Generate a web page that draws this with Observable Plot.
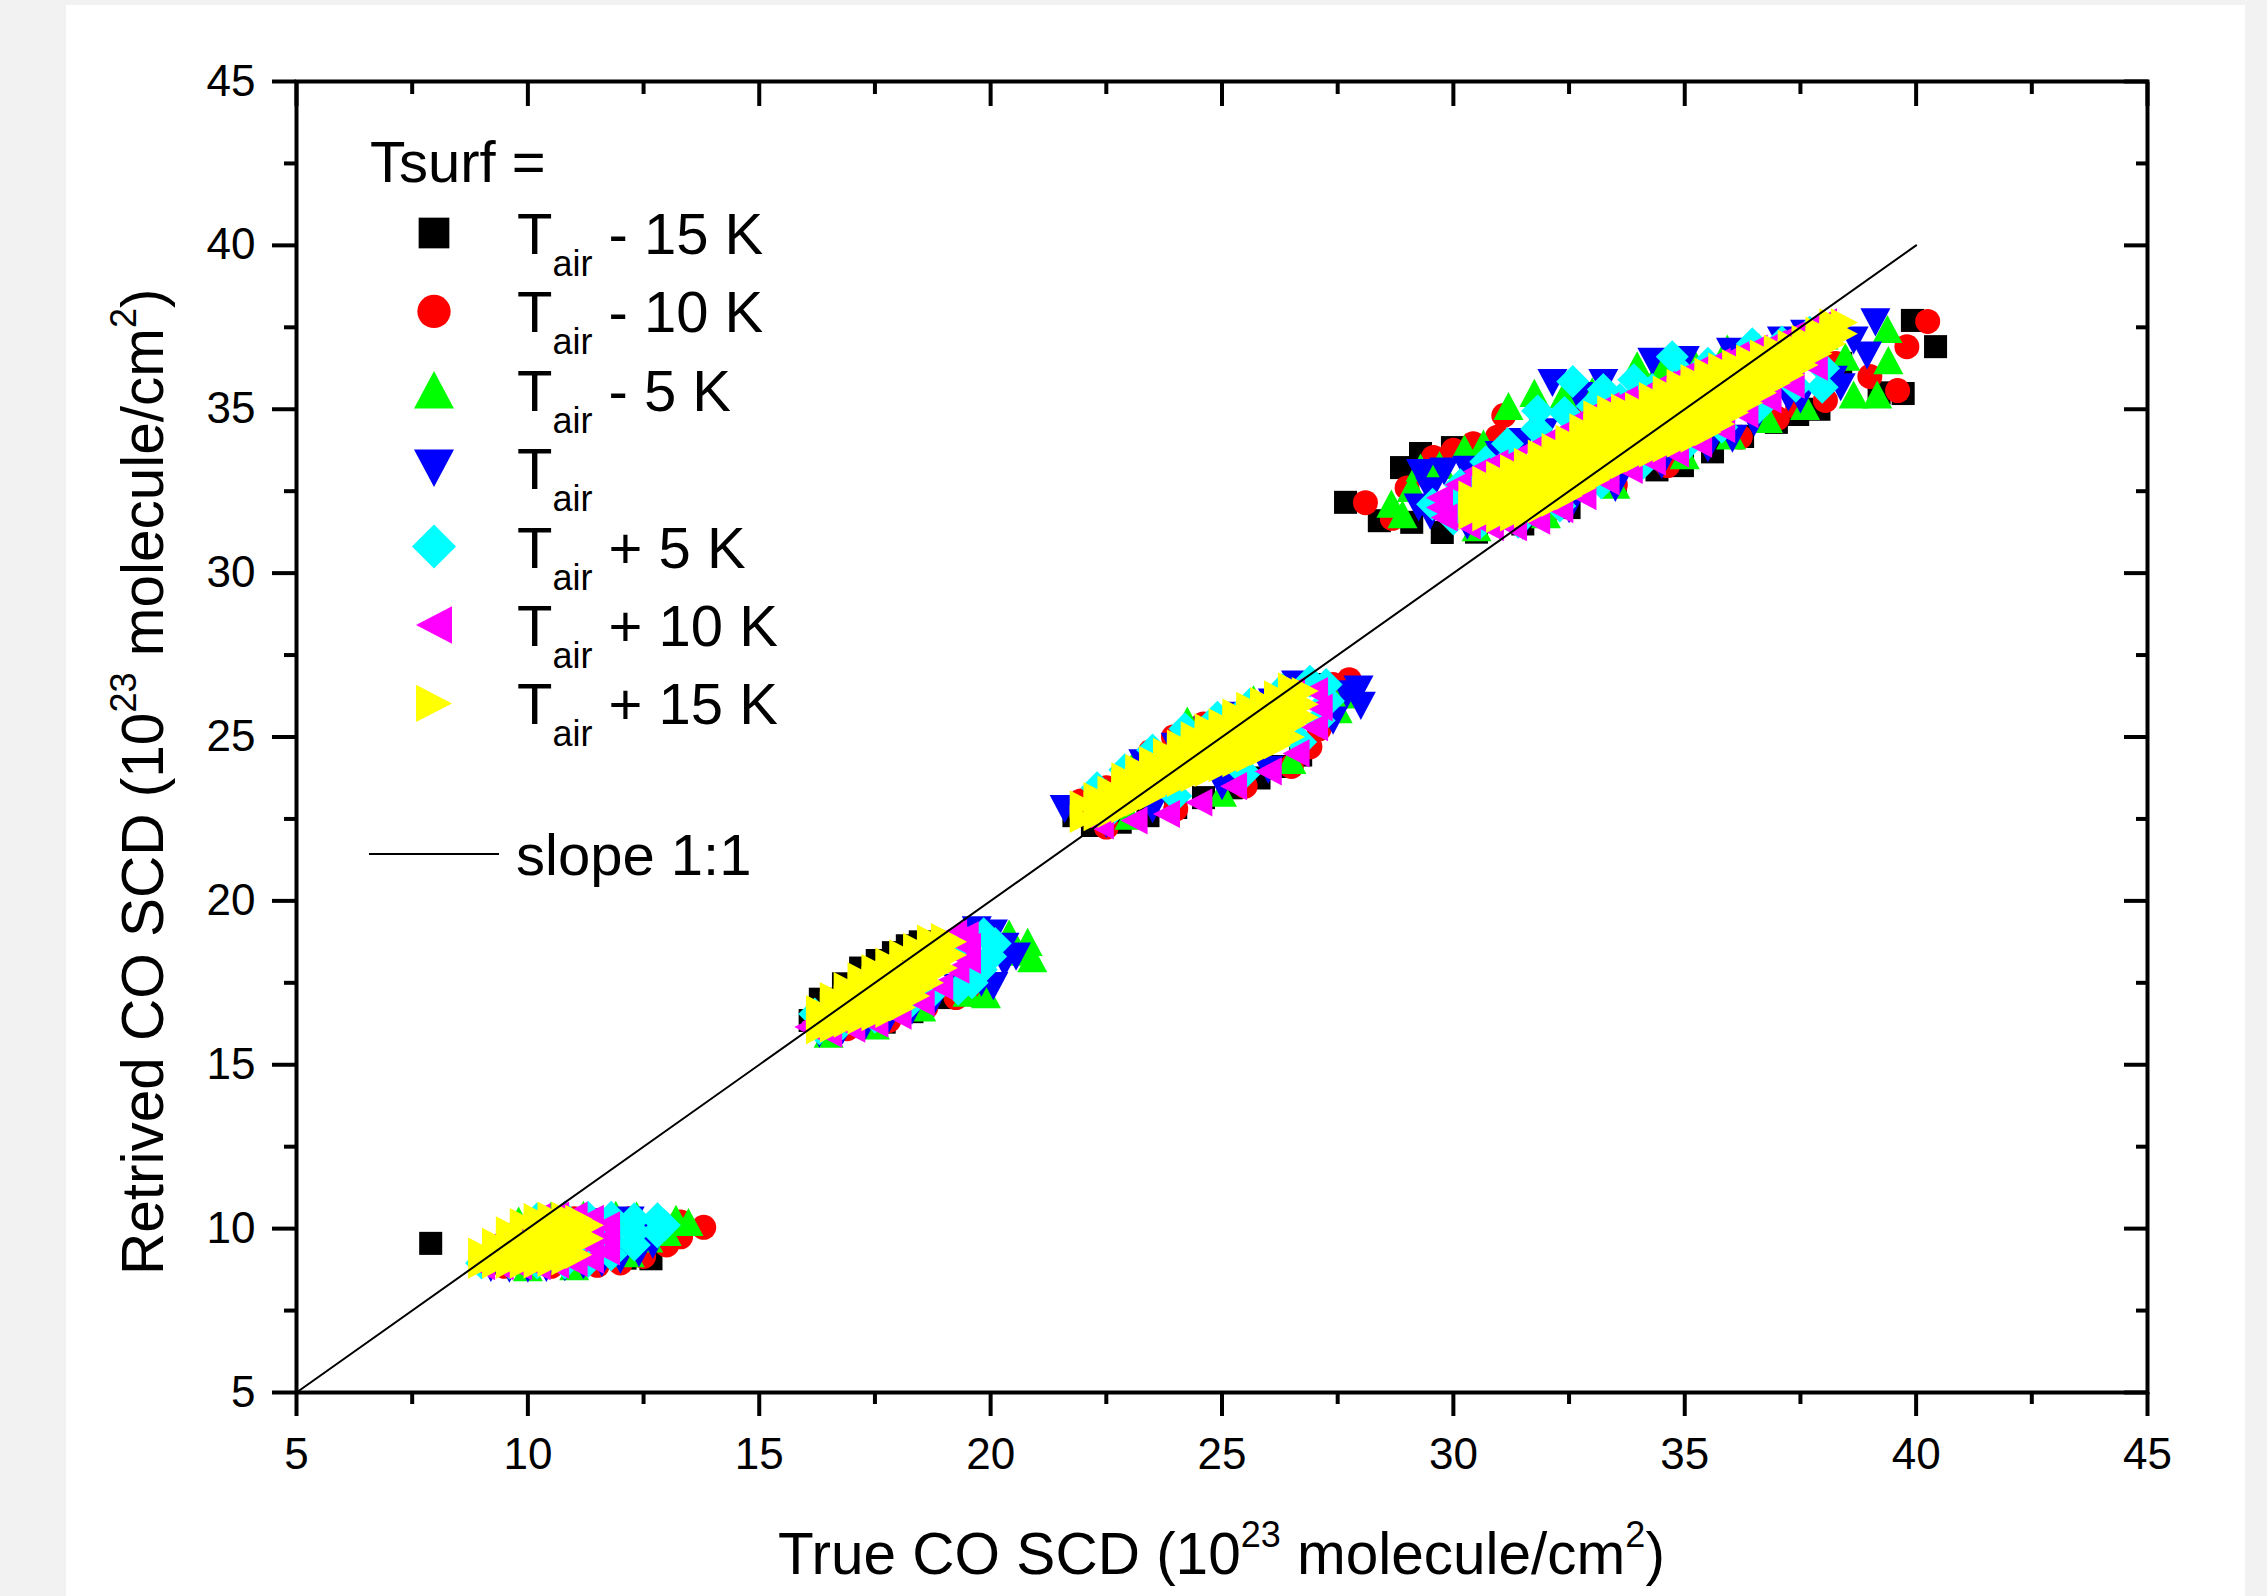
<!DOCTYPE html>
<html><head><meta charset="utf-8">
<script src="https://cdn.jsdelivr.net/npm/d3@7"></script>
<script src="https://cdn.jsdelivr.net/npm/@observablehq/plot@0.6"></script>
<style>
html,body{margin:0;padding:0;background:#f2f2f2;width:2267px;height:1596px;overflow:hidden;}
#panel{position:absolute;left:66px;top:5px;width:2179px;height:1591px;background:#fff;}
#chart{position:absolute;left:0;top:0;}
#overlay{position:absolute;left:0;top:0;pointer-events:none;}
</style></head><body>
<div id="panel"></div><div id="chart"></div>
<script>
// ---------- data ----------
const xMajorTicks = [5,10,15,20,25,30,35,40,45];
const xMinorTicks = [7.5,12.5,17.5,22.5,27.5,32.5,37.5,42.5];
const yMajorTicks = [5,10,15,20,25,30,35,40,45];
const yMinorTicks = [7.5,12.5,17.5,22.5,27.5,32.5,37.5,42.5];
const seriesLabels = ["Tair - 15 K","Tair - 10 K","Tair - 5 K","Tair","Tair + 5 K","Tair + 10 K","Tair + 15 K"];
const legendSuffix = [" - 15 K"," - 10 K"," - 5 K",""," + 5 K"," + 10 K"," + 15 K"];
const seriesColors = ["#000000","#ff0000","#00ff00","#0000ff","#00ffff","#ff00ff","#ffff00"];
const slopeLine = [[5,5],[40,40]];

const tairMinus15 = [
[7.9,9.55],[12.66,9.08],[9.6,8.95],[10.4,9.0],[11.3,9.05],[12.1,9.1],[10.5,10.2],[11.6,10.2],[12.5,9.8],
[16.32,17.0],[16.82,17.47],[17.19,17.95],[17.55,18.18],[17.9,18.42],[18.2,18.63],[18.48,18.75],[16.1,16.35],
[17.7,16.3],[18.3,16.62],[18.9,17.05],[19.3,17.4],[17.0,16.6],[18.0,17.4],[18.8,18.2],
[21.8,22.6],[22.2,22.3],[22.8,22.4],[23.4,22.6],[24.0,22.85],[24.6,23.15],[25.2,23.45],[25.8,23.75],[26.3,24.1],[26.7,24.45],
[26.8,26.62],[27.0,26.6],[23.0,23.5],[24.5,24.3],[26.0,25.3],
[27.67,32.16],[28.4,31.6],[29.1,31.55],[29.76,31.24],[28.88,33.22],[29.29,33.65],[29.98,33.83],[30.5,31.25],
[31.5,31.5],[32.5,32.0],[33.5,32.7],[34.4,33.15],[34.95,33.28],[35.6,33.7],[36.25,34.17],[36.98,34.6],[37.44,34.84],
[37.9,35.0],[38.37,36.4],[39.92,37.71],[40.42,36.91],[39.72,35.48],[39.2,35.5],[31.0,33.0],[33.0,34.0],[35.0,35.0],[37.0,36.0]
];
const tairMinus10 = [
[13.8,10.04],[13.3,9.75],[13.0,9.5],[12.5,9.15],[12.0,8.95],[11.5,8.88],[10.5,8.85],[9.5,8.85],[11.0,10.3],[12.2,10.3],[13.3,10.2],
[19.6,17.15],[19.25,17.05],[18.6,16.75],[17.8,16.35],[16.9,16.1],[16.4,16.4],[16.8,17.0],[17.5,17.7],[18.3,18.3],[19.0,18.7],
[21.95,23.05],[22.5,23.45],[23.45,24.55],[23.95,25.0],[24.6,25.4],[25.5,25.8],[27.75,26.75],[27.4,26.6],[27.1,25.25],
[22.5,22.25],[24.0,22.8],[25.5,23.5],[26.5,24.1],[26.9,24.7],
[28.1,32.15],[28.68,31.67],[29.0,32.6],[29.57,33.53],[30.0,33.75],[30.43,33.95],[30.95,34.15],[31.09,34.81],[30.78,33.35],
[32.8,34.9],[34.0,35.4],[35.2,35.9],[36.5,36.4],[30.5,31.4],[32.0,31.8],[33.5,32.7],[34.63,33.28],[36.2,34.15],
[37.0,34.72],[37.44,35.05],[38.04,35.27],[38.26,36.4],[39.6,35.57],[39.8,36.91],[40.25,37.68],[39.0,36.0]
];
const tairMinus5 = [
[9.8,10.25],[10.5,10.4],[11.2,10.42],[11.9,10.42],[12.35,10.4],[12.8,10.38],[13.2,10.3],[13.47,10.2],[12.6,9.7],[13.0,9.9],[12.2,9.25],[11.0,8.85],[10.0,8.82],
[20.8,18.75],[20.9,18.25],[20.6,18.45],[20.4,19.0],[19.9,17.15],[19.5,17.2],[18.5,16.75],[17.5,16.2],[16.5,15.95],[19.8,18.0],
[23.1,24.2],[24.25,25.5],[25.68,26.15],[27.5,25.85],[27.6,26.3],[22.5,23.3],[26.2,26.35],[23.0,22.6],[25.0,23.3],[26.5,24.3],
[28.66,32.12],[29.1,32.6],[29.29,33.22],[29.7,33.3],[30.24,33.8],[30.65,33.95],[31.19,35.1],[31.75,35.5],[32.4,35.45],[33.0,35.55],
[33.97,36.34],[34.5,36.35],[35.2,36.45],[35.92,36.85],[36.6,36.9],[37.3,37.05],[38.0,37.25],[39.38,37.45],[39.4,36.5],[38.47,36.6],
[38.65,35.45],[39.16,35.45],[37.6,35.1],[36.8,34.7],[30.5,31.4],[32.0,31.8],[33.5,32.7],[35.0,33.6],[36.0,34.2],[28.9,31.8]
];
const tair = [
[9.2,8.8],[9.6,8.78],[10.0,8.78],[10.4,8.8],[10.8,8.82],[11.2,8.88],[11.6,8.95],[12.0,9.05],[12.4,9.25],[12.7,9.5],[10.5,10.2],[11.5,10.2],[12.2,10.25],[12.6,9.9],
[16.3,15.95],[16.8,16.05],[17.3,16.2],[17.8,16.4],[18.3,16.65],[18.8,17.0],[19.3,17.35],[19.8,17.5],[20.06,17.4],
[20.3,18.1],[20.55,18.3],[20.3,18.6],[20.05,19.0],[19.7,19.1],[17.5,17.3],[18.5,18.0],
[21.6,22.8],[27.95,26.45],[28.0,25.95],[27.7,26.3],[27.4,25.5],[23.3,24.2],[24.0,24.7],[24.7,25.2],[25.4,25.65],[26.1,26.05],[26.6,26.6],
[22.5,22.35],[23.5,22.8],[25.0,23.5],[26.0,24.0],
[29.25,32.0],[29.5,32.5],[29.5,31.75],[29.3,33.05],[29.8,33.1],[30.3,33.15],[31.0,33.6],[31.5,34.0],[31.95,34.3],[32.14,35.8],[33.24,35.8],[32.7,35.4],
[34.3,36.45],[35.0,36.5],[36.0,36.75],[37.1,37.1],[37.6,37.3],[39.12,37.65],[38.65,37.1],[38.94,36.64],[38.37,35.67],[37.24,35.36],[36.03,34.1],
[30.3,31.45],[31.5,31.45],[32.5,31.95],[33.5,32.6],[34.5,33.3],[35.5,33.8],[36.5,34.6],[37.5,35.3],[38.2,35.9]
];
const tairPlus5 = [
[9.0,8.95],[9.6,8.95],[10.2,8.95],[10.8,8.95],[10.2,10.3],[10.8,10.35],[11.3,9.0],[11.3,9.5],[11.3,10.0],[11.3,10.35],[11.8,9.2],[11.8,9.6],[11.8,10.0],[11.8,10.35],
[12.3,9.5],[12.3,9.9],[12.3,10.3],[12.8,9.9],[12.8,10.3],[12.95,10.1],
[20.1,18.7],[20.0,18.3],[19.85,19.0],[19.8,17.9],[19.6,17.5],[19.3,17.3],[18.2,16.8],[18.7,17.15],[17.5,16.45],[16.8,16.25],[16.3,16.1],[16.2,16.55],[19.4,18.5],
[22.3,23.45],[22.9,24.0],[23.5,24.6],[24.2,25.25],[24.9,25.6],[25.6,26.0],[26.3,26.45],[26.9,26.7],[27.25,26.6],[27.3,26.1],[27.1,25.5],[26.7,24.85],
[22.5,22.6],[24.0,23.2],[25.5,23.9],
[29.55,32.1],[30.15,32.7],[30.7,33.4],[31.17,33.95],[31.82,34.95],[32.58,35.85],[33.24,35.6],[33.9,35.9],[34.73,36.6],[35.5,36.4],[36.46,37.0],[37.1,37.05],[37.7,37.35],
[30.0,32.3],[30.6,32.9],[31.2,33.45],[31.8,34.4],[32.4,34.9],[33.0,35.1],[33.6,35.3],[34.3,35.6],[35.0,36.0],[35.7,36.2],[36.4,36.55],[37.0,36.8],[37.5,37.1],
[30.0,31.65],[30.6,31.55],[31.4,31.55],[32.3,32.05],[33.2,32.75],[34.1,33.35],[35.0,33.85],[35.8,34.45],[36.6,35.05],[37.4,35.7],[38.0,36.25],[37.97,35.67]
];
const tairPlus10 = [
[9.0,8.85],[9.0,9.25],[9.4,8.85],[9.4,9.3],[9.4,9.7],[9.8,8.85],[9.8,9.7],[9.8,10.1],[10.2,8.85],[10.2,10.35],[10.6,8.9],[10.6,10.4],[11.0,8.95],[11.0,10.4],
[11.35,9.05],[11.35,9.5],[11.35,9.9],[11.35,10.3],[11.7,9.3],[11.7,9.7],[11.7,10.1],
[16.5,15.95],[17.0,16.1],[17.5,16.25],[18.0,16.5],[18.5,16.9],[18.9,17.4],[19.25,17.9],[19.5,18.2],[19.5,18.6],[19.45,18.95],[19.2,19.0],[17.5,17.0],[18.5,18.0],[16.2,16.3],[16.05,16.15],
[22.37,22.3],[23.1,22.45],[23.8,22.65],[24.5,23.0],[25.25,23.5],[26.0,23.95],[26.6,24.5],[27.0,25.3],[27.1,25.9],[27.0,26.4],[22.6,23.4],[24.0,24.7],[25.5,25.75],[26.5,26.4],
[29.7,32.3],[30.1,32.7],[30.5,33.1],[30.9,33.35],[31.3,33.5],[31.7,33.8],[32.1,34.1],[32.5,34.4],[32.9,34.8],[33.3,35.1],[33.7,35.3],[34.1,35.45],
[34.5,35.75],[34.9,36.0],[35.3,36.25],[35.7,36.45],[36.1,36.65],[36.5,36.85],[36.9,37.0],[37.3,37.25],[37.7,37.5],[38.0,37.65],
[29.8,31.7],[30.3,31.45],[30.8,31.4],[31.3,31.4],[31.8,31.6],[32.3,31.95],[32.8,32.35],[33.3,32.8],[33.8,33.15],[34.3,33.4],[34.8,33.65],
[35.3,33.95],[35.8,34.4],[36.3,34.85],[36.8,35.3],[37.3,35.75],[37.8,36.3],[29.7,32.0]
];
const tairPlus15 = [
[9.0,8.9],[9.0,9.3],
[9.3,8.9],[9.3,9.25],[9.3,9.6],
[9.6,8.9],[9.6,9.25],[9.6,9.6],[9.6,9.95],
[9.9,8.9],[9.9,9.3],[9.9,9.7],[9.9,10.2],
[10.2,8.9],[10.2,9.3],[10.2,9.7],[10.2,10.05],[10.2,10.35],
[10.5,8.95],[10.5,9.35],[10.5,9.75],[10.5,10.1],[10.5,10.4],
[10.8,9.0],[10.8,9.4],[10.8,9.8],[10.8,10.15],[10.8,10.4],
[11.1,9.2],[11.1,9.6],[11.1,10.0],[11.1,10.3],
[11.35,9.7],[11.35,10.1],
[16.3,16.05],[16.3,16.4],[16.3,16.7],
[16.6,16.1],[16.6,16.45],[16.6,16.8],[16.6,17.1],
[16.9,16.25],[16.9,16.63],[16.9,17.01],[16.9,17.4],
[17.2,16.35],[17.2,16.7],[17.2,17.05],[17.2,17.4],[17.2,17.7],
[17.5,16.45],[17.5,16.83],[17.5,17.2],[17.5,17.58],[17.5,17.95],
[17.8,16.55],[17.8,16.95],[17.8,17.35],[17.8,17.75],[17.8,18.15],
[18.1,16.75],[18.1,17.15],[18.1,17.55],[18.1,17.95],[18.1,18.4],
[18.4,17.1],[18.4,17.5],[18.4,17.85],[18.4,18.25],[18.4,18.6],
[18.7,17.5],[18.7,17.85],[18.7,18.2],[18.7,18.55],[18.7,18.85],
[19.0,17.95],[19.0,18.3],[19.0,18.65],[19.0,18.9],
[19.2,18.35],[19.2,18.75],
[22.0,22.5],[22.0,22.95],
[22.3,22.55],[22.3,22.9],[22.3,23.2],
[22.6,22.65],[22.6,23.0],[22.6,23.4],
[22.9,22.8],[22.9,23.2],[22.9,23.6],[22.9,23.8],
[23.2,23.0],[23.2,23.35],[23.2,23.7],[23.2,24.05],
[23.5,23.2],[23.5,23.55],[23.5,23.9],[23.5,24.3],
[23.8,23.45],[23.8,23.8],[23.8,24.15],[23.8,24.55],
[24.1,23.6],[24.1,23.95],[24.1,24.3],[24.1,24.65],[24.1,24.8],
[24.4,23.75],[24.4,24.1],[24.4,24.45],[24.4,24.8],[24.4,25.05],
[24.7,23.9],[24.7,24.25],[24.7,24.6],[24.7,24.95],[24.7,25.3],
[25.0,24.05],[25.0,24.4],[25.0,24.75],[25.0,25.1],[25.0,25.45],
[25.3,24.2],[25.3,24.55],[25.3,24.9],[25.3,25.25],[25.3,25.6],[25.3,25.75],
[25.6,24.35],[25.6,24.7],[25.6,25.05],[25.6,25.4],[25.6,25.75],[25.6,25.95],
[25.9,24.55],[25.9,24.9],[25.9,25.25],[25.9,25.6],[25.9,25.95],[25.9,26.1],
[26.2,24.75],[26.2,25.1],[26.2,25.45],[26.2,25.8],[26.2,26.15],[26.2,26.3],
[26.5,25.0],[26.5,25.35],[26.5,25.7],[26.5,26.05],[26.5,26.4],[26.5,26.55],
[26.8,25.6],[26.8,26.0],[26.8,26.4],
[30.4,31.75],[30.4,32.1],[30.4,32.4],
[30.7,31.7],[30.7,32.1],[30.7,32.5],[30.7,32.85],
[31.0,31.65],[31.0,32.0],[31.0,32.35],[31.0,32.7],[31.0,33.0],
[31.3,31.7],[31.3,32.1],[31.3,32.5],[31.3,32.9],[31.3,33.2],
[31.6,31.8],[31.6,32.2],[31.6,32.6],[31.6,33.0],[31.6,33.4],
[31.9,31.95],[31.9,32.35],[31.9,32.75],[31.9,33.15],[31.9,33.5],[31.9,33.65],
[32.2,32.15],[32.2,32.55],[32.2,32.95],[32.2,33.35],[32.2,33.7],[32.2,33.85],
[32.5,32.35],[32.5,32.75],[32.5,33.15],[32.5,33.55],[32.5,33.95],[32.5,34.1],
[32.8,32.6],[32.8,33.0],[32.8,33.4],[32.8,33.8],[32.8,34.15],[32.8,34.45],
[33.1,32.85],[33.1,33.25],[33.1,33.65],[33.1,34.05],[33.1,34.45],[33.1,34.85],
[33.4,33.1],[33.4,33.5],[33.4,33.9],[33.4,34.3],[33.4,34.7],[33.4,35.0],
[33.7,33.3],[33.7,33.7],[33.7,34.1],[33.7,34.5],[33.7,34.85],[33.7,35.05],
[34.0,33.5],[34.0,33.9],[34.0,34.3],[34.0,34.7],[34.0,35.1],
[34.3,33.65],[34.3,34.05],[34.3,34.45],[34.3,34.85],[34.3,35.2],[34.3,35.4],
[34.6,33.8],[34.6,34.2],[34.6,34.6],[34.6,35.0],[34.6,35.35],[34.6,35.6],
[34.9,33.95],[34.9,34.35],[34.9,34.75],[34.9,35.15],[34.9,35.5],[34.9,35.8],
[35.2,34.1],[35.2,34.5],[35.2,34.9],[35.2,35.3],[35.2,35.65],[35.2,35.95],
[35.5,34.3],[35.5,34.7],[35.5,35.1],[35.5,35.5],[35.5,35.85],[35.5,36.15],
[35.8,34.55],[35.8,34.95],[35.8,35.35],[35.8,35.75],[35.8,36.05],[35.8,36.3],
[36.1,34.9],[36.1,35.3],[36.1,35.7],[36.1,36.05],[36.1,36.4],
[36.4,35.2],[36.4,35.6],[36.4,36.0],[36.4,36.3],[36.4,36.55],
[36.7,35.5],[36.7,35.9],[36.7,36.3],[36.7,36.7],
[37.0,35.8],[37.0,36.15],[37.0,36.5],[37.0,36.85],
[37.3,36.05],[37.3,36.4],[37.3,36.7],[37.3,37.0],
[37.6,36.35],[37.6,36.75],[37.6,37.15],
[37.9,36.7],[37.9,37.05],[37.9,37.4],
[38.2,37.0],[38.2,37.35],[38.2,37.65],
[38.45,37.3],[38.45,37.65]
];
const seriesData = [tairMinus15, tairMinus10, tairMinus5, tair, tairPlus5, tairPlus10, tairPlus15];

// ---------- symbols (Origin style) ----------
function sym(fn){ return {draw(c, size){ const r = Math.sqrt(size / Math.PI); fn(c, r); }}; }
const symSquare = sym((c,r)=>{const h=0.96*r; c.moveTo(-h,-h); c.lineTo(h,-h); c.lineTo(h,h); c.lineTo(-h,h); c.closePath();});
const symCircle = sym((c,r)=>{const a=1.04*r; c.moveTo(a,0); c.arc(0,0,a,0,2*Math.PI); c.closePath();});
const symUp = sym((c,r)=>{const w=1.25*r,h=1.17*r; c.moveTo(0,-h); c.lineTo(w,h); c.lineTo(-w,h); c.closePath();});
const symDown = sym((c,r)=>{const w=1.25*r,h=1.17*r; c.moveTo(0,h); c.lineTo(w,-h); c.lineTo(-w,-h); c.closePath();});
const symDiamond = sym((c,r)=>{const d=1.375*r; c.moveTo(0,-d); c.lineTo(d,0); c.lineTo(0,d); c.lineTo(-d,0); c.closePath();});
const symLeft = sym((c,r)=>{const w=1.125*r,h=1.17*r; c.moveTo(-w,0); c.lineTo(w,-h); c.lineTo(w,h); c.closePath();});
const symRight = sym((c,r)=>{const w=1.125*r,h=1.17*r; c.moveTo(w,0); c.lineTo(-w,-h); c.lineTo(-w,h); c.closePath();});
const seriesSymbols = [symSquare, symCircle, symUp, symDown, symDiamond, symLeft, symRight];

const FONT = "'Liberation Sans', Arial, Helvetica, sans-serif";

const dotMarks = seriesData.map((data, i) => Plot.dot(data, {
  x: d => d[0], y: d => d[1], r: 12, symbol: seriesSymbols[i], fill: seriesColors[i], stroke: "none"
}));

const chart = Plot.plot({
  width: 2267, height: 1596,
  marginLeft: 296, marginRight: 120, marginTop: 81, marginBottom: 204,
  x: {domain: [5, 45]},
  y: {domain: [5, 45]},
  style: {fontFamily: FONT, fontSize: "44px", color: "#000", background: "transparent", overflow: "visible"},
  marks: [
    ...dotMarks,
    Plot.line(slopeLine, {x: d => d[0], y: d => d[1], stroke: "#000", strokeWidth: 2}),
    Plot.frame({stroke: "#000", strokeWidth: 4}),
    Plot.axisX(xMajorTicks, {anchor: "bottom", tickSize: 24, tickPadding: 21, strokeWidth: 4, label: null, fontSize: 44, tickFormat: d => String(d)}),
    Plot.axisX(xMinorTicks, {anchor: "bottom", tickSize: 12, strokeWidth: 4, label: null, tickFormat: () => ""}),
    Plot.axisX(xMajorTicks, {anchor: "top", tickSize: 24, dy: 24, strokeWidth: 4, label: null, tickFormat: () => ""}),
    Plot.axisX(xMinorTicks, {anchor: "top", tickSize: 12, dy: 12, strokeWidth: 4, label: null, tickFormat: () => ""}),
    Plot.axisY(yMajorTicks, {anchor: "left", tickSize: 24, tickPadding: 17, strokeWidth: 4, label: null, fontSize: 44, tickFormat: d => String(d)}),
    Plot.axisY(yMinorTicks, {anchor: "left", tickSize: 12, strokeWidth: 4, label: null, tickFormat: () => ""}),
    Plot.axisY(yMajorTicks, {anchor: "right", tickSize: 24, dx: -24, strokeWidth: 4, label: null, tickFormat: () => ""}),
    Plot.axisY(yMinorTicks, {anchor: "right", tickSize: 12, dx: -12, strokeWidth: 4, label: null, tickFormat: () => ""})
  ]
});
document.getElementById("chart").appendChild(chart);

// ---------- overlay: axis titles and legend ----------
const ov = d3.select("body").append("svg").attr("id", "overlay")
  .attr("width", 2267).attr("height", 1596)
  .attr("font-family", FONT).attr("fill", "#000");

function titleText(g, parts) {
  const t = g.append("text").attr("font-size", 58.5);
  parts.forEach(p => {
    const ts = t.append("tspan").text(p.text);
    if (p.sup) ts.attr("font-size", 36).attr("dy", -27);
    else if (p.back) ts.attr("dy", 27);
  });
  return t;
}
// x title
titleText(ov.append("g").attr("transform", "translate(778,1574)"), [
  {text: "True CO SCD (10"}, {text: "23", sup: true}, {text: " molecule/cm", back: true}, {text: "2", sup: true}, {text: ")", back: true}
]);
// y title
titleText(ov.append("g").attr("transform", "translate(163,1275) rotate(-90)"), [
  {text: "Retrived CO SCD (10"}, {text: "23", sup: true}, {text: " molecule/cm", back: true}, {text: "2", sup: true}, {text: ")", back: true}
]);

// legend
const lg = ov.append("g");
lg.append("text").attr("x", 370).attr("y", 182).attr("font-size", 58).text("Tsurf =");
seriesLabels.forEach((lab, i) => {
  const cy = 233 + 78.4 * i;
  lg.append("path")
    .attr("d", d3.symbol().type(seriesSymbols[i]).size(Math.PI * 16 * 16)())
    .attr("transform", `translate(434,${cy})`)
    .attr("fill", seriesColors[i]);
  const t = lg.append("text").attr("x", 517).attr("y", cy + 21).attr("font-size", 58);
  t.append("tspan").text("T");
  t.append("tspan").attr("font-size", 36).attr("dy", 22).text("air");
  if (legendSuffix[i]) t.append("tspan").attr("font-size", 58).attr("dy", -22).style("white-space", "pre").text(legendSuffix[i]);
});
lg.append("line").attr("x1", 369).attr("x2", 499).attr("y1", 854).attr("y2", 854).attr("stroke", "#000").attr("stroke-width", 2);
lg.append("text").attr("x", 516).attr("y", 875).attr("font-size", 58).text("slope 1:1");
</script></body></html>
